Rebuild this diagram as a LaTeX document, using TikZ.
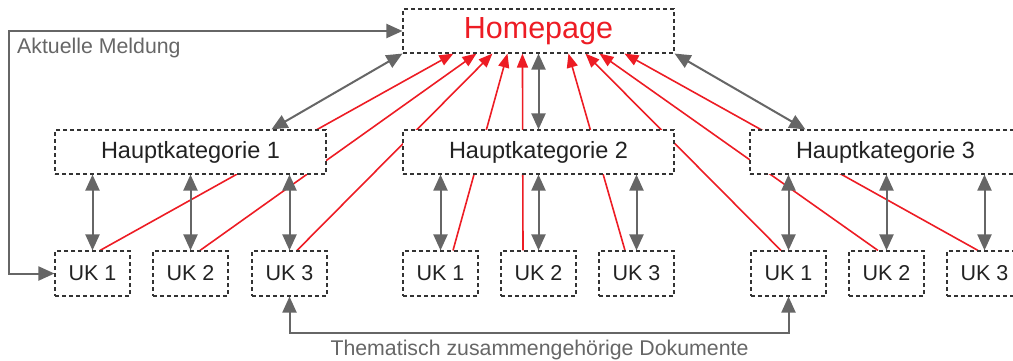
\documentclass[tikz,border=0pt]{standalone}
\usepackage{fontspec}
\setmainfont{Liberation Sans}
\usetikzlibrary{calc,arrows.meta}
\pgfdeclarelayer{bg}
\pgfsetlayers{bg,main}
\definecolor{myred}{HTML}{ED1C24}
\definecolor{mygray}{HTML}{666666}
\definecolor{boxline}{HTML}{333333}
\definecolor{txt}{HTML}{222222}
\begin{document}
\begin{tikzpicture}[x=1pt,y=-1pt,
 box/.style={draw=boxline, line width=1.1pt, dash pattern=on 4pt off 3pt, fill=white, inner sep=0pt, text=txt},
 hpbox/.style={box, minimum width=271pt, minimum height=44pt, text=myred, font=\fontsize{30.5}{36}\selectfont},
 hkbox/.style={box, minimum width=271pt, minimum height=44pt, font=\fontsize{23.5}{28}\selectfont},
 ukbox/.style={box, minimum width=75pt, minimum height=45pt, font=\fontsize{21.5}{26}\selectfont},
 garrow/.style={draw=mygray, line width=2pt, {Triangle[length=16pt,width=14pt]}-{Triangle[length=16pt,width=14pt]}},
 rarrow/.style={draw=myred, line width=1.6pt, -{Triangle[length=14pt,width=11pt]}},
 lbl/.style={text=mygray, font=\fontsize{21.3}{26}\selectfont, inner sep=0pt}]
\useasboundingbox (0,0) rectangle (1013,360);
\clip (0,0) rectangle (1013,360);

% nodes
\node[hpbox] (hp) at (538.5,31) {Homepage};
\node[hkbox] (hk1) at (190.5,152) {Hauptkategorie 1};
\node[hkbox] (hk2) at (538.5,152) {Hauptkategorie 2};
\node[hkbox] (hk3) at (885.5,152) {Hauptkategorie 3};
\node[ukbox] (g1u1) at (92.5,273.5) {UK 1};
\node[ukbox] (g1u2) at (190.5,273.5) {UK 2};
\node[ukbox] (g1u3) at (289.5,273.5) {UK 3};
\node[ukbox] (g2u1) at (440.5,273.5) {UK 1};
\node[ukbox] (g2u2) at (538.5,273.5) {UK 2};
\node[ukbox] (g2u3) at (636.5,273.5) {UK 3};
\node[ukbox] (g3u1) at (788.5,273.5) {UK 1};
\node[ukbox] (g3u2) at (886.5,273.5) {UK 2};
\node[ukbox] (g3u3) at (984.5,273.5) {UK 3};

% red links (behind boxes)
\begin{pgfonlayer}{bg}
\draw[rarrow] ($(g1u1.north)+(7.5,0)$) -- ($(hp.south west)+(51,0)$);
\draw[rarrow] ($(g1u2.north)+(9.5,0)$) -- ($(hp.south west)+(74,0)$);
\draw[rarrow] ($(g1u3.north)+(7.5,0)$) -- ($(hp.south west)+(90,0)$);
\draw[rarrow] ($(g2u1.north)+(12.5,0)$) -- ($(hp.south west)+(105,0)$);
\draw[rarrow] ($(g2u2.north)+(-15.5,0)$) -- ($(hp.south west)+(120,0)$);
\draw[rarrow] ($(g2u3.north)+(-11.5,0)$) -- ($(hp.south west)+(166,0)$);
\draw[rarrow] ($(g3u1.north)+(-7.5,0)$) -- ($(hp.south west)+(183,0)$);
\draw[rarrow] ($(g3u2.north)+(-8.5,0)$) -- ($(hp.south west)+(197,0)$);
\draw[rarrow] ($(g3u3.north)+(-6.5,0)$) -- ($(hp.south west)+(222,0)$);
\end{pgfonlayer}

% gray links
\draw[garrow] ($(hk1.north west)+(217,0)$) -- (hp.south west);
\draw[garrow] (hp.south) -- (hk2.north);
\draw[garrow] (hp.south east) -- ($(hk3.north west)+(56,0)$);
\foreach \g/\h in {g1u1/hk1,g1u2/hk1,g1u3/hk1,g2u1/hk2,g2u2/hk2,g2u3/hk2,g3u1/hk3,g3u2/hk3,g3u3/hk3}
  \draw[garrow] (\g.north |- \h.south) -- (\g.north);

% Aktuelle Meldung
\coordinate (am) at (9,150);
\draw[garrow] (hp.west) -| (am) |- (g1u1.west);
\node[lbl, anchor=base west] (amlbl) at (17,53) {Aktuelle Meldung};

% Thematisch zusammengehoerige Dokumente
\coordinate (tz) at (539,333);
\draw[garrow] (g1u3.south) |- (tz) -| (g3u1.south);
\node[lbl, anchor=base] (tzlbl) at (539.5,355) {Thematisch zusammengehörige Dokumente};
\end{tikzpicture}
\end{document}
